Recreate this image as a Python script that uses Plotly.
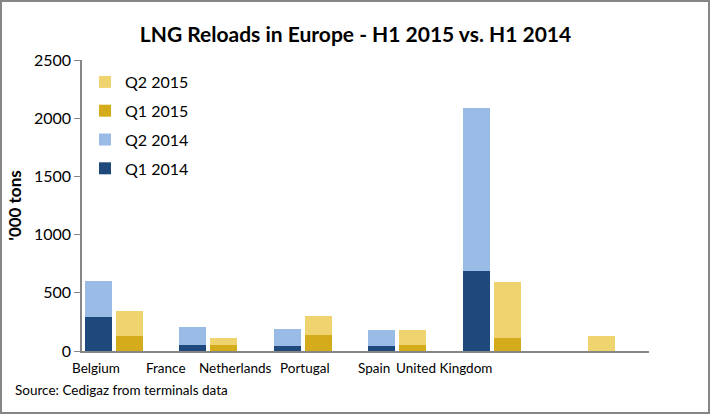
import plotly.graph_objects as go

countries = ["Belgium", "France", "Netherlands", "Portugal", "Spain", "United Kingdom"]
q1_2014 = [295, 52, 45, 45, 685, 0]
q2_2014 = [305, 156, 147, 138, 1400, 0]
q1_2015 = [130, 52, 138, 52, 113, 0]
q2_2015 = [216, 62, 166, 130, 476, 130]
y_ticks = [0, 500, 1000, 1500, 2000, 2500]

C_Q1_14 = "#1F497D"
C_Q2_14 = "#9ABBE5"
C_Q1_15 = "#D4AC1B"
C_Q2_15 = "#EED36E"

W, H = 711, 415
L, R, T, B = 82, 62, 60, 64
pw, ph = W - L - R, H - T - B

idx = list(range(len(countries)))
x14 = [i - 0.33 for i in idx]
x15 = [i + 0.0 for i in idx]
bw = 0.286

fig = go.Figure()
fig.add_trace(go.Bar(x=x14, y=q1_2014, name="Q1 2014", marker_color=C_Q1_14, width=bw, legendgroup="a", legendrank=4))
fig.add_trace(go.Bar(x=x14, y=q2_2014, name="Q2 2014", marker_color=C_Q2_14, width=bw, legendgroup="b", legendrank=3))
fig.add_trace(go.Bar(x=x15, y=q1_2015, name="Q1 2015", marker_color=C_Q1_15, width=bw, legendgroup="c", legendrank=2))
fig.add_trace(go.Bar(x=x15, y=q2_2015, name="Q2 2015", marker_color=C_Q2_15, width=bw, legendgroup="d", legendrank=1))
fig.update_traces(marker_line_width=0)

font = "Lato, 'Open Sans', sans-serif"
gray = "#868686"

# category labels (offset text as in the original)
label_px0, label_step = 96, 69.5
annotations = []
for k, name in enumerate(countries):
    px = label_px0 + label_step * k
    xd = -0.5 + (px - L) / pw * 6
    annotations.append(dict(x=xd, xref="x", y=-0.025, yref="paper", text=name,
                            showarrow=False, xanchor="center", yanchor="top",
                            font=dict(family=font, size=13.5, color="#000")))
annotations.append(dict(x=(13 - L) / pw, xref="paper", y=(H - 390 - B) / ph, yref="paper",
                        text="Source: Cedigaz from terminals data", showarrow=False,
                        xanchor="left", yanchor="middle",
                        font=dict(family=font, size=13.5, color="#000")))

fig.update_layout(
    width=W, height=H,
    margin=dict(l=L, r=R, t=T, b=B),
    barmode="stack",
    bargap=0,
    paper_bgcolor="white",
    plot_bgcolor="white",
    title=dict(text="<b>LNG Reloads in Europe - H1 2015 vs. H1 2014</b>",
               x=0.5, xanchor="center", xref="container",
               y=1 - 35 / H, yanchor="middle", yref="container",
               font=dict(family=font, size=21, color="#000")),
    xaxis=dict(range=[-0.5, 5.5], showticklabels=False, ticks="", showgrid=False,
               zeroline=False, showline=True, linecolor=gray, linewidth=2, fixedrange=True),
    yaxis=dict(range=[0, 2500], tickvals=y_ticks, ticks="outside", ticklen=6, tickcolor=gray,
               tickwidth=1, showgrid=False, zeroline=False, showline=True, linecolor=gray,
               linewidth=1.5, tickfont=dict(family=font, size=16, color="#000"),
               title=dict(text="<b>'000 tons</b>", font=dict(family=font, size=17, color="#000"),
                          standoff=8)),
    legend=dict(x=(85 - L) / pw, y=(H - B - 65) / ph, xanchor="left", yanchor="top",
                traceorder="grouped", tracegroupgap=5,
                bgcolor="rgba(0,0,0,0)", font=dict(family=font, size=16, color="#000")),
    annotations=annotations,
    shapes=[dict(type="rect", xref="paper", yref="paper",
                 x0=-(L - 1) / pw, x1=(W - L - 2) / pw,
                 y0=-(B - 2) / ph, y1=(H - B - 1) / ph,
                 line=dict(color=gray, width=2), fillcolor="rgba(0,0,0,0)", layer="below")],
)

fig.write_html("out.html", config={"displayModeBar": False},
               post_script="document.body.style.margin='0';document.body.style.overflow='hidden';")
